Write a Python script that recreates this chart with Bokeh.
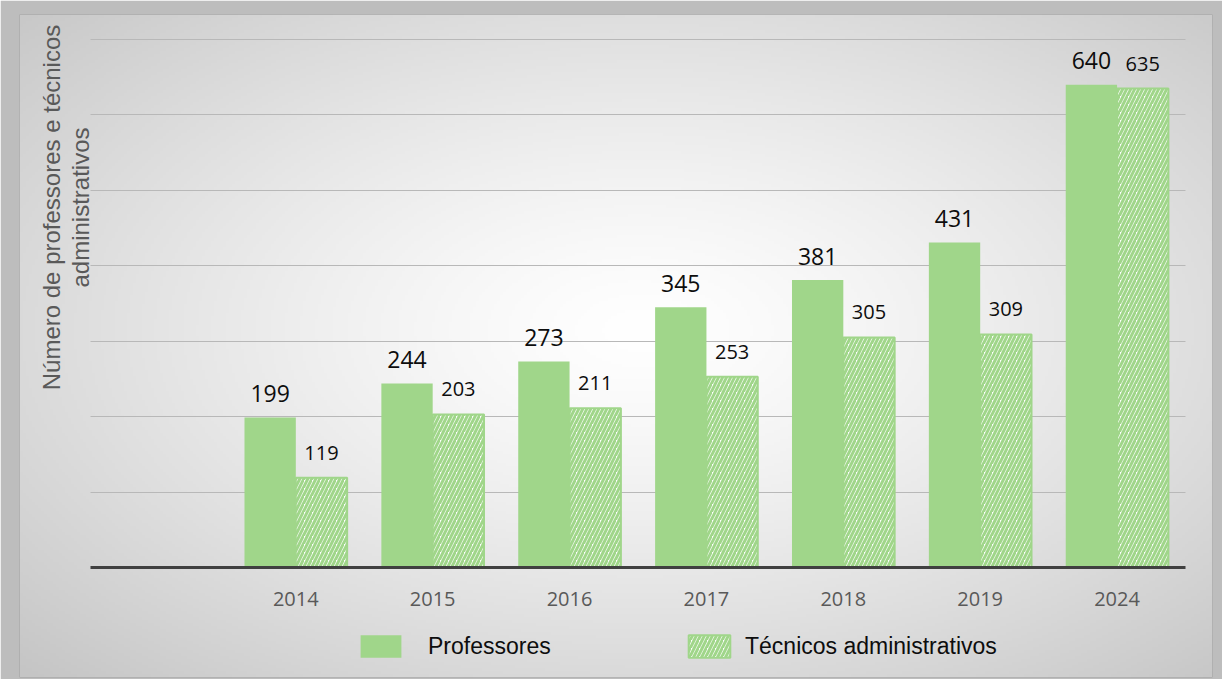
import numpy as np
from bokeh.plotting import figure
from bokeh.models import (Range1d, FixedTicker, Label, Legend, LegendItem,
                          ColumnDataSource)
from bokeh.transform import dodge
from bokeh.core.properties import value
from bokeh.embed import file_html
from bokeh.resources import INLINE

# ---------------- data ----------------
categories = ["", "2014", "2015", "2016", "2017", "2018", "2019", "2024"]
professores = [None, 199, 244, 273, 345, 381, 431, 640]
tecnicos = [None, 119, 203, 211, 253, 305, 309, 635]
grid_values = [100, 200, 300, 400, 500, 600, 700]
series_names = ["Professores", "Técnicos administrativos"]
y_title_lines = ["Número de professores e técnicos", "administrativos"]

# ---------------- style / layout ----------------
GREEN = "#a0d68a"
W, H = 1222, 679
BL, BT, BR, BB = 19, 14, 10, 2
FW, FH = W - BL - BR, H - BT - BB
PAGE_X0, PAGE_Y0 = BL, BT                   # frame top-left on page
PAGE_X1, PAGE_Y1 = PAGE_X0 + FW, PAGE_Y0 + FH

plot_left, plot_right = 90, 1185            # inner plot area (page px)
zero_y, top_y = 567, 39                      # page px of 0 and 700
n_slots = len(categories)
slot_px = (plot_right - plot_left) / n_slots
ppu = (zero_y - top_y) / grid_values[-1]

x_start = -0.5 - (plot_left - PAGE_X0) / slot_px
x_end = n_slots - 0.5 + (PAGE_X1 - plot_right) / slot_px
y_start = -(PAGE_Y1 - zero_y) / ppu
y_end = (zero_y - PAGE_Y0) / ppu

p = figure(width=W, height=H, output_backend="svg", toolbar_location=None,
           x_range=Range1d(x_start, x_end), y_range=Range1d(y_start, y_end),
           min_border_left=BL, min_border_right=BR, min_border_top=BT,
           min_border_bottom=BB)
p.background_fill_color = "white"
p.border_fill_color = "#bdbdbd"
p.outline_line_color = "#a8a8a8"

# radial gradient background
nx, ny = 400, 220
gx = PAGE_X0 + np.linspace(0, 1, nx) * FW
gy = PAGE_Y1 - np.linspace(0, 1, ny) * FH
GX, GY = np.meshgrid(gx, gy)
d = np.sqrt(((GX - 640) / 620.0) ** 2 + ((GY - 330) / 345.0) ** 2)
v = (255 - 58 * np.clip(d / 1.414, 0, 1) ** 1.3).astype(np.uint8)
img = np.empty((ny, nx), dtype=np.uint32)
view = img.view(dtype=np.uint8).reshape((ny, nx, 4))
view[..., 0] = v
view[..., 1] = v
view[..., 2] = v
view[..., 3] = 255
p.image_rgba(image=[img], x=x_start, y=y_start, dw=x_end - x_start,
             dh=y_end - y_start, level="image")

# data source
idx = [i for i, c in enumerate(categories) if c]
src = ColumnDataSource(dict(
    x=idx,
    prof=[professores[i] for i in idx],
    tec=[tecnicos[i] for i in idx],
    prof_lbl=[str(professores[i]) for i in idx],
    tec_lbl=[str(tecnicos[i]) for i in idx],
))

bw = 0.375
r1 = p.vbar(x=dodge("x", -bw / 2, range=p.x_range), top="prof", bottom=0,
            width=bw, source=src, fill_color=GREEN, line_color=None)
r2 = p.vbar(x=dodge("x", bw / 2, range=p.x_range), top="tec", bottom=0,
            width=bw, source=src, fill_color="white", line_color=GREEN,
            line_width=2, hatch_pattern="right_diagonal_line",
            hatch_color=GREEN, hatch_scale=8, hatch_weight=3)

p.text(x=dodge("x", -bw / 2, range=p.x_range), y="prof", text="prof_lbl",
       source=src, text_align="center", text_baseline="middle", y_offset=-24,
       text_font=value("Open Sans"), text_font_size="23px",
       text_color="#0d0d0d")
p.text(x=dodge("x", bw / 2, range=p.x_range), y="tec", text="tec_lbl",
       source=src, text_align="center", text_baseline="middle", y_offset=-25,
       text_font=value("Open Sans"), text_font_size="20px",
       text_color="#0d0d0d")

# axes
p.yaxis.visible = False
xa = p.xaxis[0]
xa.fixed_location = 0
xa.bounds = (-0.5, n_slots - 0.5)
xa.ticker = FixedTicker(ticks=idx)
xa.major_label_overrides = {i: categories[i] for i in idx}
xa.axis_line_color = "#404040"
xa.axis_line_width = 3
xa.major_tick_line_color = None
xa.minor_tick_line_color = None
xa.major_label_standoff = 18
xa.major_label_text_font = "Open Sans"
xa.major_label_text_font_size = "20px"
xa.major_label_text_color = "#595959"

# grid
p.xgrid.visible = False
yg = p.ygrid[0]
yg.ticker = FixedTicker(ticks=grid_values)
yg.grid_line_color = "#b8b8b8"
yg.grid_line_width = 1
if "cross_bounds" in yg.properties():
    yg.cross_bounds = (-0.5, n_slots - 0.5)

# y-axis title (two lines)
for txt, xs in zip(y_title_lines, [51, 80]):
    p.add_layout(Label(x=xs - PAGE_X0, y=PAGE_Y1 - 207, x_units="screen",
                       y_units="screen", text=txt, angle=np.pi / 2,
                       text_align="center", text_baseline="middle",
                       text_font="Liberation Sans", text_font_size="24px",
                       text_color="#595959"))

# legends
for r, name, lx, gw, so in [(r1, series_names[0], 355, 51, 22),
                            (r2, series_names[1], 683, 52, 10)]:
    lg = Legend(items=[LegendItem(label=name, renderers=[r])],
                location=(lx - PAGE_X0, PAGE_Y1 - 660),
                orientation="horizontal", glyph_width=gw, glyph_height=28,
                label_standoff=so, padding=0, margin=0,
                border_line_color=None, background_fill_alpha=0,
                label_text_font="Liberation Sans",
                label_text_font_size="23px", label_text_color="#0d0d0d",
                label_height=28)
    p.add_layout(lg)

open("out.html", "w").write(file_html(p, INLINE))
